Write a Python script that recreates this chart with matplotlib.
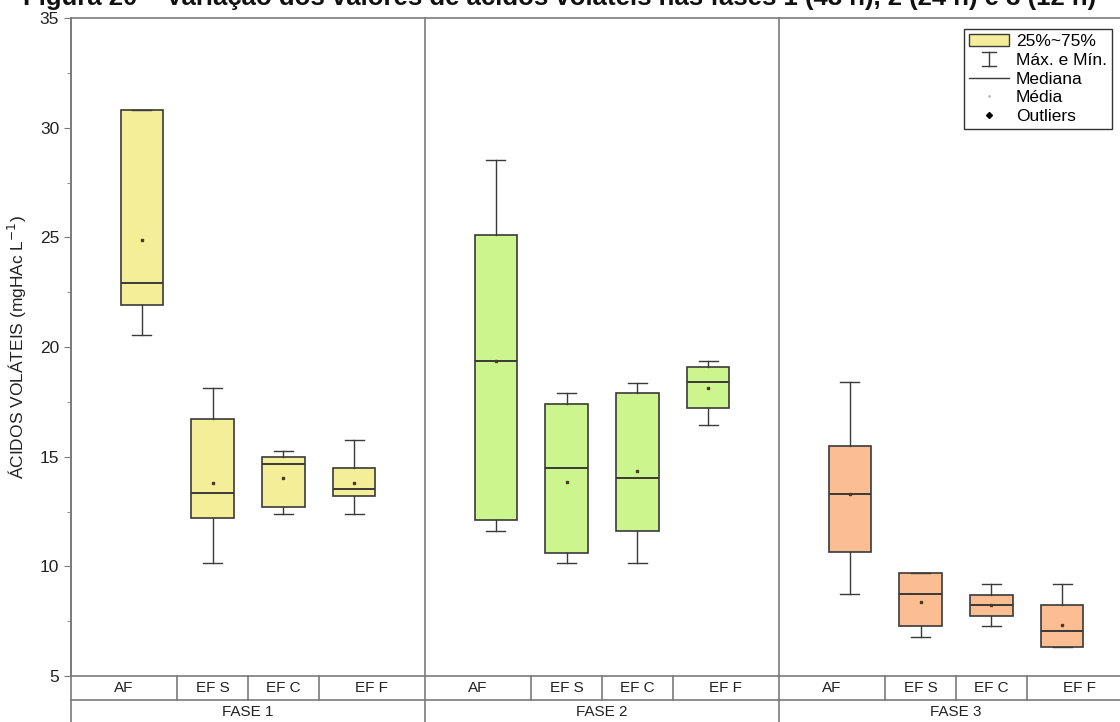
import matplotlib
matplotlib.use('Agg')
import numpy as np
import matplotlib.pyplot as plt
from matplotlib.lines import Line2D
from matplotlib.patches import Patch
from matplotlib.legend_handler import HandlerBase
from matplotlib.ticker import MultipleLocator

plt.rcParams['font.family'] = ['Liberation Sans', 'DejaVu Sans']

####################################################################################

FIGURE_XSIZE = 11.2
FIGURE_YSIZE = 7.22

EDGE_RGB = '#3a3a3a'
AXIS_RGB = '#7a7a7a'
PHASE_RGB = ['#F5EE98', '#CDF58E', '#FBBE92']

TITLE = 'Figura 20 \u2013 Variação dos valores de ácidos voláteis nas fases 1 (48 h), 2 (24 h) e 3 (12 h)'

phases = ['FASE 1', 'FASE 2', 'FASE 3']
samples = ['AF', 'EF S', 'EF C', 'EF F']

# one row per phase, one column per sample (AF, EF S, EF C, EF F)
q1 = [[21.9, 12.2, 12.7, 13.2],
      [12.1, 10.6, 11.6, 17.2],
      [10.65, 7.27, 7.75, 6.31]]
q3 = [[30.8, 16.7, 15.0, 14.5],
      [25.1, 17.4, 17.9, 19.1],
      [15.47, 9.7, 8.71, 8.24]]
median = [[22.9, 13.36, 14.65, 13.52],
          [19.36, 14.5, 14.03, 18.39],
          [13.3, 8.72, 8.24, 7.04]]
mean = [[24.9, 13.78, 14.04, 13.78],
        [19.36, 13.83, 14.35, 18.13],
        [13.3, 8.37, 8.24, 7.34]]
whis_lo = [[20.54, 10.14, 12.4, 12.4],
           [11.63, 10.17, 10.17, 16.45],
           [8.72, 6.79, 7.27, 6.31]]
whis_hi = [[30.8, 18.14, 15.27, 15.74],
           [28.53, 17.89, 18.37, 19.35],
           [18.39, 9.7, 9.2, 9.2]]

####################################################################################


class HandlerIBar(HandlerBase):
    def create_artists(self, legend, orig_handle, xdescent, ydescent,
                       width, height, fontsize, trans):
        cx = width / 2 - xdescent
        cap = width * 0.18
        y0, y1 = -ydescent - height * 0.1, -ydescent + height * 1.1
        lines = [Line2D([cx, cx], [y0, y1]),
                 Line2D([cx - cap, cx + cap], [y0, y0]),
                 Line2D([cx - cap, cx + cap], [y1, y1])]
        for ln in lines:
            ln.set_color(EDGE_RGB)
            ln.set_linewidth(1.0)
            ln.set_transform(trans)
        return lines


figure = plt.figure(figsize=(FIGURE_XSIZE, FIGURE_YSIZE), dpi=100, facecolor='white')
axes = figure.add_axes([71 / 1120, 1 - 676 / 722, 1062 / 1120, 658 / 722])

axes.set_xlim(0, 15)
axes.set_ylim(5, 35)
axes.yaxis.set_major_locator(MultipleLocator(5))
axes.yaxis.set_minor_locator(MultipleLocator(2.5))
axes.tick_params(axis='y', which='major', direction='out', length=5, color=AXIS_RGB,
                 labelsize=12.5, labelcolor='#222222')
axes.tick_params(axis='y', which='minor', direction='out', length=3, color=AXIS_RGB)
axes.set_xticks([])
for side in ['left', 'top', 'bottom', 'right']:
    axes.spines[side].set_color(AXIS_RGB)
    axes.spines[side].set_linewidth(1.2)
axes.set_ylabel('ÁCIDOS VOLÁTEIS (mgHAc L$^{-1}$)', fontsize=12.5, color='#222222', labelpad=8)

offsets = np.array([1, 2, 3, 4])
for p in range(len(phases)):
    stats = []
    for s in range(len(samples)):
        stats.append({'q1': q1[p][s], 'q3': q3[p][s], 'med': median[p][s],
                      'mean': mean[p][s], 'whislo': whis_lo[p][s],
                      'whishi': whis_hi[p][s], 'fliers': []})
    positions = offsets + 5 * p
    axes.bxp(stats, positions=positions, widths=0.6, capwidths=0.27,
             patch_artist=True, showmeans=True, manage_ticks=False,
             boxprops=dict(facecolor=PHASE_RGB[p], edgecolor=EDGE_RGB, linewidth=1.2),
             medianprops=dict(color=EDGE_RGB, linewidth=1.4),
             whiskerprops=dict(color=EDGE_RGB, linewidth=1.0),
             capprops=dict(color=EDGE_RGB, linewidth=1.0),
             meanprops=dict(marker='s', markersize=2, markerfacecolor='#4a3a20',
                            markeredgecolor='#4a3a20'))

# table-style category axis below the plot
xtrans = axes.get_xaxis_transform()
row = 24 / 658
axes.plot([0, 15], [-row, -row], transform=xtrans, color=AXIS_RGB, lw=1.2, clip_on=False)
axes.plot([0, 0], [1, -3 * row], transform=xtrans, color=AXIS_RGB, lw=1.2, clip_on=False)
for p in range(len(phases)):
    start = 5 * p
    axes.plot([start + 5, start + 5], [1, -3 * row], transform=xtrans,
              color=AXIS_RGB, lw=1.2, clip_on=False)
    for sep in [1.5, 2.5, 3.5]:
        axes.plot([start + sep, start + sep], [0, -row], transform=xtrans,
                  color=AXIS_RGB, lw=1.2, clip_on=False)
    cell_centres = [0.75, 2, 3, 4.25]
    for s, name in enumerate(samples):
        axes.text(start + cell_centres[s], -row / 2, name, transform=xtrans,
                  ha='center', va='center', fontsize=11, color='#222222')
    axes.text(start + 2.5, -1.5 * row, phases[p], transform=xtrans,
              ha='center', va='center', fontsize=11, color='#222222')

figure.text(0.5, 1 - 5 / 722, TITLE, ha='center', va='baseline',
            fontsize=18.5, fontweight='bold', color='#111111')

handles = [Patch(facecolor=PHASE_RGB[0], edgecolor=EDGE_RGB, linewidth=1.0),
           object(),
           Line2D([], [], color=EDGE_RGB, linewidth=1.0),
           Line2D([], [], linestyle='none', marker='.', markersize=2, color='#bbbbbb'),
           Line2D([], [], linestyle='none', marker='D', markersize=3, color='black')]
labels = ['25%~75%', 'Máx. e Mín.', 'Mediana', 'Média', 'Outliers']
legend = axes.legend(handles, labels, loc='upper right',
                     bbox_to_anchor=(1112 / 1120, 1 - 29 / 722),
                     bbox_transform=figure.transFigure,
                     handler_map={object: HandlerIBar()},
                     fontsize=12.5, fancybox=False, framealpha=1,
                     edgecolor='#333333', borderpad=0.3, labelspacing=0.2,
                     handlelength=2.3, handletextpad=0.4, borderaxespad=0)
legend.get_frame().set_linewidth(1.0)

figure.savefig('out.png', dpi=100, facecolor='white')
